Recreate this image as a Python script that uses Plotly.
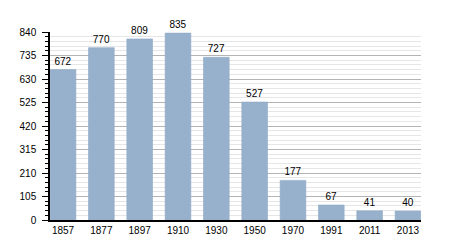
import plotly.graph_objects as go

years = ["1857", "1877", "1897", "1910", "1930", "1950", "1970", "1991", "2011", "2013"]
population = [672, 770, 809, 835, 727, 527, 177, 67, 41, 40]
y_ticks = [0, 105, 210, 315, 420, 525, 630, 735, 840]

fig = go.Figure(go.Bar(
    x=list(range(len(years))),
    y=population,
    text=[str(v) for v in population],
    textposition="outside",
    textfont=dict(color="black", size=10),
    cliponaxis=False,
    marker=dict(color="#97b1cd", line=dict(color="#8ea9c6", width=0.6)),
    width=0.67,
))

fig.update_layout(
    width=450, height=250,
    margin=dict(l=50, r=29, t=31.5, b=30),
    paper_bgcolor="white", plot_bgcolor="white",
    font=dict(family="Liberation Sans, Arial, sans-serif", size=10, color="black"),
    showlegend=False,
    xaxis=dict(
        tickmode="array", tickvals=list(range(len(years))), ticktext=years,
        range=[-0.34, 9.34], showgrid=False, zeroline=False,
        showline=True, linecolor="black", linewidth=1.5, ticks="",
        tickfont=dict(size=10),
    ),
    yaxis=dict(
        range=[0, 840], tickmode="array", tickvals=y_ticks,
        showgrid=True, gridcolor="#b4b4b4", gridwidth=1,
        zeroline=False, showline=True, linecolor="black", linewidth=1.5,
        ticks="outside", ticklen=6, tickcolor="black", tickwidth=1,
        ticklabelstandoff=4,
        minor=dict(dtick=21, tick0=0, showgrid=True, gridcolor="#e6e6e6", gridwidth=1,
                   ticks="outside", ticklen=3, tickcolor="black"),
        tickfont=dict(size=10),
    ),
)

fig.write_html("out.html")
